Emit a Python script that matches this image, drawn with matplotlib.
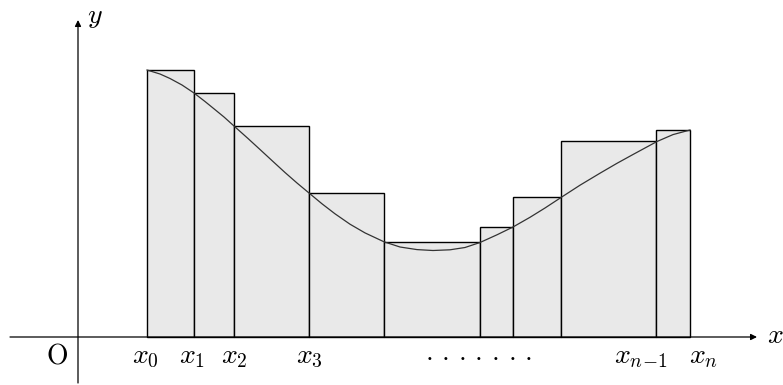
import matplotlib
import matplotlib.pyplot as plt
matplotlib.use('agg')

plt.rcParams['mathtext.fontset'] = 'cm'

# Data (picture units, y grows downwards)
edges = [147, 194, 234, 309, 384, 480, 513, 561, 656, 690]
tops = [70, 93, 126, 193, 242, 227, 197, 141, 130]

curve_x = [147, 160, 170, 182, 194, 205, 213, 224, 234, 248, 260, 273, 285, 297,
           309, 322, 335, 350, 365, 384, 400, 417, 433, 450, 465, 480, 497, 513,
           530, 545, 561, 580, 600, 617, 633, 657, 673, 690]
curve_y = [70, 74, 78.5, 85, 93, 101.5, 108, 117, 126, 138.5, 149.5, 161.5, 172.5, 183,
           193, 203.8, 213.8, 224.2, 232.9, 241.8, 247, 249.6, 250.5, 249.8, 247.5, 242.5,
           234.8, 227, 217.3, 208, 197.5, 185.2, 173.2, 163.3, 154.5, 141.5, 134.6, 130]

# label centres as they sit in the picture
tick_pos = [145, 192, 234, 309, 641, 704]
tick_labels = [r'$x_0$', r'$x_1$', r'$x_2$', r'$x_3$', r'$x_{n\!-\!1}$', r'$x_n$']

base = 337
y_axis_x = 78

fig = plt.figure(figsize=(7.83, 3.85), dpi=100)
ax = fig.add_axes([0, 0, 1, 1])
ax.set_xlim(0, 783)
ax.set_ylim(385, 0)
ax.axis('off')

# rectangles
for i in range(len(tops)):
    w = edges[i + 1] - edges[i]
    ax.bar(edges[i], tops[i] - base, width=w, bottom=base, align='edge',
           color='#e9e9e9', edgecolor='black', linewidth=1.0, zorder=2)

# curve
ax.plot(curve_x, curve_y, color='#333333', linewidth=0.9, zorder=3)

# axes with arrows
ax.annotate('', xy=(757, base), xytext=(10, base),
            arrowprops=dict(arrowstyle='-|>', color='black', lw=0.9,
                            mutation_scale=9, shrinkA=0, shrinkB=0), zorder=4)
ax.annotate('', xy=(y_axis_x, 20), xytext=(y_axis_x, 383),
            arrowprops=dict(arrowstyle='-|>', color='black', lw=0.9,
                            mutation_scale=9, shrinkA=0, shrinkB=0), zorder=1)

# labels
for p, lab in zip(tick_pos, tick_labels):
    ax.text(p, 342, lab, ha='center', va='top', fontsize=20)
ax.text(479, 338, r'$.\,.\,.\,.\,.\,.\,.$', ha='center', va='top', fontsize=20)
ax.text(57, 342, r'$\mathrm{O}$', ha='center', va='top', fontsize=20)
ax.text(767, 335, r'$x$', ha='left', va='center', fontsize=20)
ax.text(87, 16, r'$y$', ha='left', va='center', fontsize=20)

plt.savefig('out.png', dpi=100)
